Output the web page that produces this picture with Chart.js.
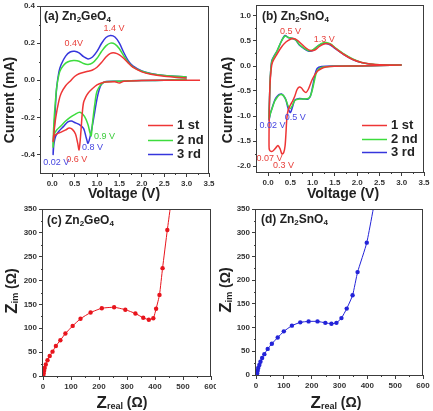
<!DOCTYPE html>
<html>
<head>
<meta charset="utf-8">
<script src="https://cdn.jsdelivr.net/npm/chart.js@4.4.1/dist/chart.umd.min.js"></script>
<style>
  html, body { margin: 0; padding: 0; background: #fff; }
  #wrap { position: relative; width: 433px; height: 411px; overflow: hidden; }
  #wrap canvas { position: absolute; }
</style>
</head>
<body>
<div id="wrap">
  <canvas id="pa" width="216" height="205" style="left:0;top:0"></canvas>
  <canvas id="pb" width="217" height="205" style="left:216px;top:0"></canvas>
  <canvas id="pc" width="216" height="206" style="left:0;top:205px"></canvas>
  <canvas id="pd" width="217" height="206" style="left:216px;top:205px"></canvas>
</div>
<script>
// ---- data ---------------------------------------------------------------
const cycleLabels = ['1 st', '2 nd', '3 rd'];

// (a) Zn2GeO4 CV: each cycle runs cathodic (high V -> 0.02 V) then anodic back up
const geV1 = [3.3, 3.0, 2.5, 2.0, 1.6, 1.5, 1.4, 1.2, 1.1, 1.0, 0.9, 0.8, 0.75, 0.7, 0.67, 0.64, 0.6, 0.57, 0.52, 0.45, 0.38, 0.3, 0.2, 0.1, 0.05, 0.02,
              0.04, 0.08, 0.15, 0.2, 0.3, 0.4, 0.5, 0.6, 0.8, 0.9, 1.0, 1.1, 1.2, 1.3, 1.4, 1.5, 1.6, 1.7, 1.8, 2.0, 2.2, 2.5, 3.0];
const geI1 = [0.0, 0.0, 0.0, -0.002, -0.005, -0.015, -0.008, -0.01, -0.015, -0.025, -0.045, -0.07, -0.09, -0.12, -0.18, -0.28, -0.375, -0.34, -0.29, -0.265, -0.258, -0.268, -0.28, -0.29, -0.3, -0.33,
              -0.28, -0.2, -0.11, -0.07, -0.03, -0.005, 0.02, 0.035, 0.048, 0.055, 0.07, 0.095, 0.125, 0.145, 0.147, 0.137, 0.117, 0.092, 0.07, 0.045, 0.032, 0.022, 0.012];
const geV2 = [3.0, 2.5, 2.0, 1.5, 1.2, 1.1, 1.0, 0.95, 0.9, 0.87, 0.84, 0.8, 0.72, 0.62, 0.5, 0.4, 0.3, 0.2, 0.1, 0.05, 0.02,
              0.04, 0.07, 0.1, 0.15, 0.2, 0.3, 0.4, 0.5, 0.6, 0.7, 0.8, 0.9, 1.0, 1.1, 1.2, 1.3, 1.4, 1.5, 1.6, 1.7, 1.8, 2.0, 2.2, 2.5, 3.0];
const geI2 = [0.005, 0.0, -0.002, -0.005, -0.008, -0.02, -0.06, -0.13, -0.23, -0.3, -0.28, -0.24, -0.195, -0.173, -0.185, -0.2, -0.22, -0.245, -0.268, -0.29, -0.36,
              -0.22, -0.12, -0.04, 0.03, 0.062, 0.092, 0.104, 0.106, 0.102, 0.09, 0.085, 0.093, 0.118, 0.155, 0.185, 0.2, 0.195, 0.17, 0.13, 0.095, 0.072, 0.048, 0.035, 0.025, 0.018];
const geV3 = [3.0, 2.5, 2.0, 1.5, 1.2, 1.1, 1.05, 1.0, 0.95, 0.9, 0.85, 0.8, 0.76, 0.7, 0.6, 0.5, 0.43, 0.35, 0.25, 0.15, 0.08, 0.04, 0.02,
              0.04, 0.07, 0.1, 0.15, 0.2, 0.3, 0.4, 0.5, 0.6, 0.7, 0.8, 0.9, 1.0, 1.1, 1.2, 1.3, 1.4, 1.5, 1.6, 1.7, 1.8, 2.0, 2.2, 2.5, 3.0];
const geI3 = [0.005, 0.0, -0.002, -0.005, -0.007, -0.022, -0.05, -0.1, -0.17, -0.24, -0.3, -0.34, -0.31, -0.26, -0.238, -0.228, -0.22, -0.225, -0.25, -0.275, -0.3, -0.34, -0.4,
              -0.28, -0.15, -0.04, 0.045, 0.085, 0.13, 0.152, 0.156, 0.147, 0.127, 0.115, 0.125, 0.155, 0.198, 0.23, 0.241, 0.233, 0.2, 0.148, 0.104, 0.077, 0.05, 0.036, 0.025, 0.018];

// (b) Zn2SnO4 CV
const snV1 = [3.0, 2.5, 2.0, 1.5, 1.3, 1.2, 1.1, 1.0, 0.95, 0.9, 0.85, 0.8, 0.75, 0.7, 0.65, 0.6, 0.55, 0.5, 0.45, 0.42, 0.4, 0.38, 0.35, 0.31, 0.27, 0.22, 0.17, 0.12, 0.07, 0.03, 0.02,
              0.025, 0.04, 0.07, 0.1, 0.2, 0.3, 0.4, 0.5, 0.57, 0.65, 0.75, 0.85, 0.95, 1.05, 1.15, 1.25, 1.3, 1.4, 1.5, 1.7, 1.9, 2.1, 2.3, 2.5, 3.0];
const snI1 = [0.02, 0.01, 0.0, -0.005, -0.02, -0.05, -0.11, -0.25, -0.36, -0.47, -0.53, -0.5, -0.44, -0.42, -0.47, -0.6, -0.7, -0.78, -0.88, -1.05, -1.35, -1.6, -1.73, -1.76, -1.66, -1.59, -1.64, -1.69, -1.71, -1.68, -1.6,
              -1.0, -0.4, -0.05, 0.08, 0.24, 0.38, 0.48, 0.535, 0.55, 0.52, 0.44, 0.36, 0.31, 0.32, 0.39, 0.44, 0.45, 0.43, 0.36, 0.23, 0.13, 0.07, 0.04, 0.025, 0.02];
const snV2 = [3.0, 2.5, 2.0, 1.5, 1.2, 1.1, 1.05, 1.0, 0.95, 0.9, 0.8, 0.7, 0.6, 0.55, 0.5, 0.45, 0.4, 0.35, 0.3, 0.25, 0.2, 0.15, 0.1, 0.05, 0.02,
              0.03, 0.05, 0.08, 0.12, 0.2, 0.3, 0.38, 0.45, 0.55, 0.62, 0.7, 0.8, 0.9, 1.0, 1.1, 1.2, 1.3, 1.4, 1.5, 1.7, 1.9, 2.1, 2.3, 2.5, 3.0];
const snI2 = [0.02, 0.01, 0.0, -0.005, -0.03, -0.1, -0.25, -0.45, -0.6, -0.65, -0.66, -0.66, -0.69, -0.78, -0.85, -0.8, -0.68, -0.6, -0.57, -0.58, -0.63, -0.7, -0.82, -0.95, -1.05,
              -0.7, -0.2, 0.08, 0.17, 0.3, 0.5, 0.6, 0.57, 0.55, 0.52, 0.43, 0.36, 0.31, 0.32, 0.39, 0.45, 0.47, 0.44, 0.37, 0.24, 0.14, 0.07, 0.04, 0.025, 0.02];
const snV3 = [3.0, 2.5, 2.0, 1.5, 1.2, 1.1, 1.05, 1.0, 0.95, 0.9, 0.8, 0.7, 0.6, 0.55, 0.5, 0.45, 0.4, 0.35, 0.3, 0.25, 0.2, 0.15, 0.1, 0.05, 0.02,
              0.03, 0.05, 0.08, 0.12, 0.2, 0.3, 0.38, 0.45, 0.55, 0.62, 0.7, 0.8, 0.9, 1.0, 1.1, 1.2, 1.3, 1.4, 1.5, 1.7, 1.9, 2.1, 2.3, 2.5, 3.0];
const snI3 = [0.02, 0.01, 0.0, 0.0, -0.01, -0.05, -0.18, -0.41, -0.6, -0.66, -0.66, -0.65, -0.68, -0.81, -0.93, -0.85, -0.68, -0.6, -0.56, -0.57, -0.61, -0.68, -0.81, -0.95, -1.08,
              -0.7, -0.2, 0.1, 0.18, 0.3, 0.5, 0.61, 0.57, 0.55, 0.52, 0.42, 0.35, 0.3, 0.31, 0.39, 0.44, 0.45, 0.42, 0.35, 0.23, 0.13, 0.067, 0.035, 0.022, 0.02];

// (c)/(d) Nyquist plots, ohm
const geZre = [1, 2, 4, 6, 10, 16, 24, 34, 46, 62, 80, 106, 134, 170, 210, 254, 294, 330, 358, 378, 394, 404, 416, 427, 444, 470];
const geZim = [2, 6, 11, 17, 24, 33, 42, 51, 63, 75, 89, 105, 120, 133, 142, 144, 139, 131, 122, 118, 121, 141, 170, 226, 306, 420];
const snZre = [2, 4, 6, 8, 12, 16, 22, 30, 42, 57, 78, 100, 129, 159, 189, 221, 249, 271, 289, 307, 326, 347, 365, 398, 440];
const snZim = [1, 3.5, 9, 15, 21, 28, 36, 44, 55, 66, 79, 92, 104, 111, 113, 113, 110, 108, 110, 120, 140, 168, 217, 279, 410];

// peak annotations (text, voltage, current, cycle index for colour)
const geNoteText = ['1.4 V', '0.4V', '0.6 V', '0.8 V', '0.9 V', '0.02 V'];
const geNoteV = [1.38, 0.48, 0.55, 0.9, 1.17, 0.09];
const geNoteI = [0.277, 0.198, -0.425, -0.363, -0.305, -0.445];
const geNoteCycle = [0, 0, 0, 2, 1, 2];
const snNoteText = ['0.5 V', '1.3 V', '0.02 V', '0.5 V', '0.07 V', '0.3 V'];
const snNoteV = [0.5, 1.26, 0.1, 0.61, 0.03, 0.345];
const snNoteI = [0.68, 0.52, -1.19, -1.04, -1.855, -1.99];
const snNoteCycle = [0, 0, 2, 2, 0, 0];

// tick labels
const voltTicks = [0, 0.5, 1, 1.5, 2, 2.5, 3, 3.5];
const geCurrentTicks = [-0.4, -0.2, 0, 0.2, 0.4];
const snCurrentTicks = [-2, -1.5, -1, -0.5, 0, 0.5, 1];
const zReTicks = [0, 100, 200, 300, 400, 500, 600];
const zImTicks = [0, 50, 100, 150, 200, 250, 300, 350];

// ---- styling ------------------------------------------------------------
const FONT = '"Liberation Sans", Arial, sans-serif';
const AXIS = '#3c3c3c';
const cycleColors = ['#ee3535', '#3ddc3d', '#3636dc'];
const noteColors = ['#e8413c', '#3ccc3c', '#4646e0'];

const zip = (xs, ys) => xs.map((x, i) => ({ x, y: ys[i] }));
const halfSteps = t => t.slice(1).map((v, i) => (v + t[i]) / 2);
const run = (text, size, dy = 0, weight = 'bold') => ({ text, font: `${weight} ${size}px ${FONT}`, dy });

function drawRuns(ctx, runs, x, y, align, rotate, color) {
    ctx.save();
    ctx.translate(x, y);
    if (rotate) ctx.rotate(-Math.PI / 2);
    ctx.fillStyle = color;
    ctx.textBaseline = 'middle';
    ctx.textAlign = 'left';
    let w = 0;
    runs.forEach((r) => { ctx.font = r.font; w += ctx.measureText(r.text).width; });
    let cx = align === 'left' ? 0 : -w / 2;
    runs.forEach((r) => {
        ctx.font = r.font;
        ctx.fillText(r.text, cx, r.dy);
        cx += ctx.measureText(r.text).width;
    });
    ctx.restore();
}

// frame, minor ticks, titles, peak labels and the in-plot legend
const panelDecor = {
    id: 'panelDecor',
    afterDraw(chart, args, o) {
        const { ctx, chartArea: a, scales: { x, y } } = chart;
        ctx.save();
        ctx.strokeStyle = AXIS;
        ctx.lineWidth = 1;
        ctx.strokeRect(a.left - 0.5, a.top + 0.5, a.right - a.left, a.bottom - a.top);
        ctx.beginPath();
        (o.xMinor || []).forEach((v) => {
            const px = Math.round(x.getPixelForValue(v)) + 0.5;
            ctx.moveTo(px, a.bottom); ctx.lineTo(px, a.bottom + 2);
        });
        (o.yMinor || []).forEach((v) => {
            const py = Math.round(y.getPixelForValue(v)) + 0.5;
            ctx.moveTo(a.left, py); ctx.lineTo(a.left - 2, py);
        });
        ctx.stroke();
        ctx.restore();

        const n = o.notes;
        if (n) {
            n.text.forEach((t, i) => {
                drawRuns(ctx, [run(t, 9, 0, 'normal')], x.getPixelForValue(n.v[i]), y.getPixelForValue(n.i[i]),
                    'center', false, noteColors[n.cycle[i]]);
            });
        }

        (o.titles || []).forEach((t) => drawRuns(ctx, t.runs, t.x, t.y, t.align, t.rotate, '#222'));

        if (o.legend) {
            const L = o.legend;
            chart.data.datasets.forEach((ds, i) => {
                const ly = Math.round(a.top + L.top + i * L.gap) + 0.5;
                ctx.save();
                ctx.strokeStyle = ds.borderColor;
                ctx.lineWidth = 1.5;
                ctx.beginPath();
                ctx.moveTo(a.left + L.left, ly);
                ctx.lineTo(a.left + L.left + 25, ly);
                ctx.stroke();
                ctx.restore();
                drawRuns(ctx, [run(ds.label, 13)], a.left + L.left + 29, ly, 'left', false, '#222');
            });
        }
    },
};

function axis(s, dir, size) {
    return {
        type: 'linear',
        min: s.min,
        max: s.max,
        afterBuildTicks: (sc) => { sc.ticks = s.ticks.map((v) => ({ value: v })); },
        afterFit: (sc) => {
            if (dir === 'x') sc.height = size; else sc.width = size;
            sc.paddingLeft = 0; sc.paddingRight = 0; sc.paddingTop = 0; sc.paddingBottom = 0;
        },
        border: { display: false },
        grid: { drawOnChartArea: false, tickLength: 4, color: AXIS, lineWidth: 1 },
        ticks: {
            autoSkip: false,
            maxRotation: 0,
            padding: 2,
            color: '#333',
            font: { family: FONT, size: 8, weight: 'bold' },
            callback: s.fmt,
        },
    };
}

function buildPanel(id, area, xAxis, yAxis, datasets, decor) {
    const canvas = document.getElementById(id);
    const W = canvas.width, H = canvas.height;
    return new Chart(canvas, {
        type: 'line',
        data: { datasets },
        plugins: [panelDecor],
        options: {
            responsive: false,
            animation: false,
            events: [],
            devicePixelRatio: 1,
            layout: { padding: { left: 0, top: area.top, right: W - area.right, bottom: 0 } },
            plugins: { legend: { display: false }, tooltip: { enabled: false }, panelDecor: decor },
            scales: { x: axis(xAxis, 'x', H - area.bottom), y: axis(yAxis, 'y', area.left) },
        },
    });
}

const cvSets = (pairs) => pairs.map(([v, i], k) => ({
    label: cycleLabels[k],
    data: zip(v, i),
    borderColor: cycleColors[k],
    borderWidth: 1.5,
    pointRadius: 0,
    tension: 0.3,
    fill: false,
}));

const eisSet = (re, im, color) => [{
    data: zip(re, im),
    borderColor: color,
    backgroundColor: color,
    borderWidth: 1,
    pointRadius: 2.2,
    pointBorderWidth: 0,
    tension: 0.15,
    fill: false,
}];

const fmt1 = (v) => Number(v).toFixed(1);
const fmt0 = (v) => String(Math.round(v));

const cvX = { min: -0.25, max: 3.5, ticks: voltTicks, fmt: fmt1 };

buildPanel('pa', { left: 41, top: 6, right: 209, bottom: 173 },
    cvX,
    { min: -0.5, max: 0.4, ticks: geCurrentTicks, fmt: fmt1 },
    cvSets([[geV1, geI1], [geV2, geI2], [geV3, geI3]]),
    {
        xMinor: halfSteps(voltTicks),
        yMinor: halfSteps(geCurrentTicks),
        notes: { text: geNoteText, v: geNoteV, i: geNoteI, cycle: geNoteCycle },
        legend: { left: 107, top: 119, gap: 14.5 },
        titles: [
            { runs: [run('(a) Zn', 12), run('2', 8, 3), run('GeO', 12), run('4', 8, 3)], x: 44, y: 17, align: 'left' },
            { runs: [run('Current (mA)', 14)], x: 10, y: 100, rotate: true },
            { runs: [run('Voltage (V)', 14)], x: 124, y: 194 },
        ],
    });

buildPanel('pb', { left: 41, top: 5, right: 208, bottom: 172 },
    cvX,
    { min: -2.12, max: 1.22, ticks: snCurrentTicks, fmt: fmt1 },
    cvSets([[snV1, snI1], [snV2, snI2], [snV3, snI3]]),
    {
        xMinor: halfSteps(voltTicks),
        yMinor: halfSteps(snCurrentTicks),
        notes: { text: snNoteText, v: snNoteV, i: snNoteI, cycle: snNoteCycle },
        legend: { left: 105, top: 120, gap: 13.5 },
        titles: [
            { runs: [run('(b) Zn', 12), run('2', 8, 3), run('SnO', 12), run('4', 8, 3)], x: 46, y: 17, align: 'left' },
            { runs: [run('Current (mA)', 14)], x: 12, y: 100, rotate: true },
            { runs: [run('Voltage (V)', 14)], x: 127, y: 194 },
        ],
    });

const eisX = { min: 0, max: 600, ticks: zReTicks, fmt: fmt0 };
const eisY = { min: 0, max: 350, ticks: zImTicks, fmt: fmt0 };
const zImTitle = [run('Z', 17), run('im', 9, 4), run(' (\u03A9)', 14)];
const zReTitle = [run('Z', 17), run('real', 9, 4), run(' (\u03A9)', 14)];

buildPanel('pc', { left: 43, top: 4, right: 211, bottom: 171 },
    eisX, eisY, eisSet(geZre, geZim, '#e8141c'),
    {
        xMinor: halfSteps(zReTicks),
        yMinor: halfSteps(zImTicks),
        titles: [
            { runs: [run('(c) Zn', 12), run('2', 8, 3), run('GeO', 12), run('4', 8, 3)], x: 47, y: 16, align: 'left' },
            { runs: zImTitle, x: 12, y: 86, rotate: true },
            { runs: zReTitle, x: 122, y: 198 },
        ],
    });

buildPanel('pd', { left: 40, top: 3, right: 207, bottom: 170 },
    eisX, eisY, eisSet(snZre, snZim, '#2323d8'),
    {
        xMinor: halfSteps(zReTicks),
        yMinor: halfSteps(zImTicks),
        titles: [
            { runs: [run('(d) Zn', 12), run('2', 8, 3), run('SnO', 12), run('4', 8, 3)], x: 45, y: 15, align: 'left' },
            { runs: zImTitle, x: 10, y: 85, rotate: true },
            { runs: zReTitle, x: 120, y: 198 },
        ],
    });
</script>
</body>
</html>
